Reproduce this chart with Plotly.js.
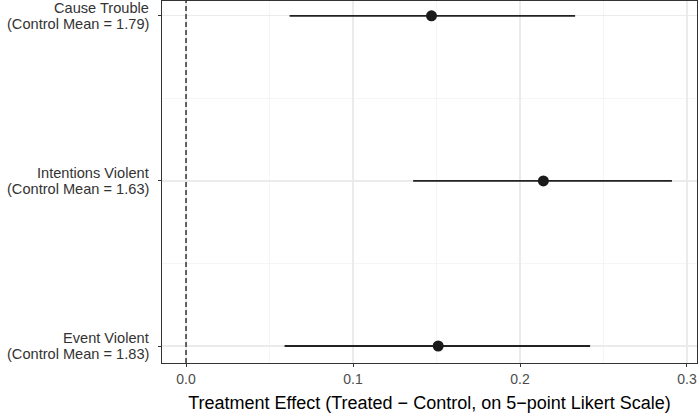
<!DOCTYPE html>
<html>
<head>
<meta charset="utf-8">
<script src="https://cdn.plot.ly/plotly-3.0.1.min.js"></script>
<style>
  html, body { margin: 0; padding: 0; background: #fff; }
  #graph { width: 700px; height: 420px; }
</style>
</head>
<body>
<div id="graph"></div>
<script>
var outcomes = ['Event Violent', 'Intentions Violent', 'Cause Trouble'];
var controlMeans = ['1.83', '1.63', '1.79'];
var estimates = [0.151, 0.214, 0.147];
var ciLow = [0.059, 0.136, 0.062];
var ciHigh = [0.242, 0.291, 0.233];
var xTicks = [0, 0.1, 0.2, 0.3];
var xTickText = ['0.0', '0.1', '0.2', '0.3'];

var rows = [1, 2, 3];
var plus = [], minus = [];
var notes = [];
for (var i = 0; i < outcomes.length; i++) {
  plus.push(ciHigh[i] - estimates[i]);
  minus.push(estimates[i] - ciLow[i]);
  // two-line row label, ggplot style tight line height
  notes.push({
    xref: 'paper', yref: 'y', x: 0, y: rows[i],
    xanchor: 'right', yanchor: 'middle', xshift: -12, yshift: 8,
    text: outcomes[i], showarrow: false, borderpad: 0,
    font: { size: 14.6, color: '#333333' }
  });
  notes.push({
    xref: 'paper', yref: 'y', x: 0, y: rows[i],
    xanchor: 'right', yanchor: 'middle', xshift: -12, yshift: -8,
    text: '(Control Mean = ' + controlMeans[i] + ')', showarrow: false, borderpad: 0,
    font: { size: 14.6, color: '#333333' }
  });
}

var trace = {
  x: estimates,
  y: rows,
  type: 'scatter',
  mode: 'markers',
  marker: { color: '#1a1a1a', size: 11 },
  error_x: {
    type: 'data',
    symmetric: false,
    array: plus,
    arrayminus: minus,
    color: '#222222',
    thickness: 1.8,
    width: 0
  },
  showlegend: false
};

var layout = {
  width: 700,
  height: 420,
  margin: { l: 162, r: 3, t: 1, b: 57 },
  paper_bgcolor: '#ffffff',
  plot_bgcolor: '#ffffff',
  font: { family: 'Liberation Sans, Arial, sans-serif', color: '#4d4d4d', size: 14 },
  xaxis: {
    range: [-0.0144, 0.306],
    tickvals: xTicks,
    ticktext: xTickText,
    ticks: 'outside',
    ticklen: 3,
    tickcolor: '#333333',
    tickwidth: 1,
    showgrid: true,
    gridcolor: '#ebebeb',
    gridwidth: 1.2,
    minor: { tickvals: [0.05, 0.15, 0.25], showgrid: true, gridcolor: '#f2f2f2', gridwidth: 0.8, ticklen: 0 },
    zeroline: false,
    showline: true,
    mirror: true,
    linecolor: '#333333',
    linewidth: 1,
    tickfont: { size: 14, color: '#4d4d4d' },
    title: {
      text: 'Treatment Effect (Treated \u2212 Control, on 5\u2212point Likert Scale)',
      font: { size: 18, color: '#000000' },
      standoff: 10
    }
  },
  yaxis: {
    range: [0.897, 3.09],
    tickvals: rows,
    showticklabels: false,
    ticks: 'outside',
    ticklen: 3,
    tickcolor: '#333333',
    tickwidth: 1,
    showgrid: true,
    gridcolor: '#ebebeb',
    gridwidth: 1.2,
    minor: { tickvals: [1.5, 2.5], showgrid: true, gridcolor: '#f2f2f2', gridwidth: 0.8, ticklen: 0 },
    zeroline: false,
    showline: true,
    mirror: true,
    linecolor: '#333333',
    linewidth: 1
  },
  annotations: notes,
  shapes: [{
    type: 'line',
    xref: 'x', yref: 'paper',
    x0: 0, x1: 0, y0: 0, y1: 1,
    line: { color: '#1a1a1a', width: 1.3, dash: '5px,3px' }
  }]
};

Plotly.newPlot('graph', [trace], layout, { displayModeBar: false, staticPlot: true });
</script>
</body>
</html>
